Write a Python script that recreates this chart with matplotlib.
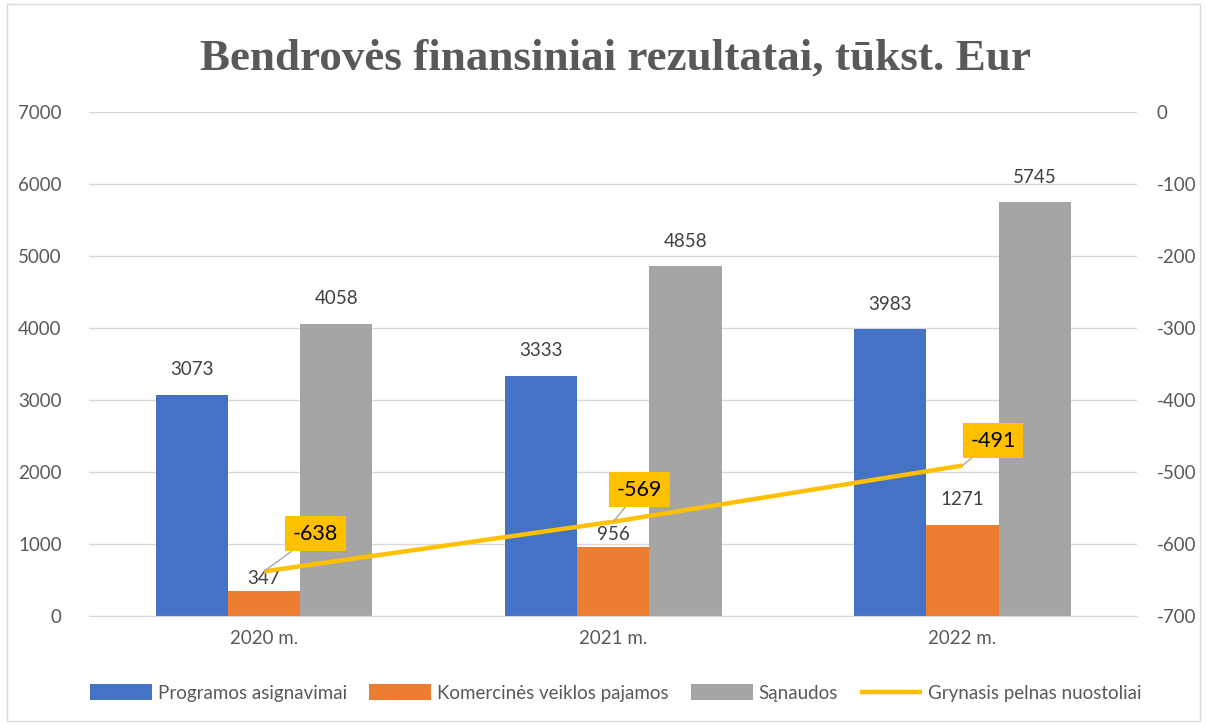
import matplotlib
matplotlib.use("Agg")
import matplotlib.pyplot as plt
import numpy as np
from matplotlib.patches import Rectangle

# chart data
years = ["2020 m.", "2021 m.", "2022 m."]
programos = [3073, 3333, 3983]
komercines = [347, 956, 1271]
sanaudos = [4058, 4858, 5745]
pelnas = [-638, -569, -491]

series_names = ["Programos asignavimai", "Komercinės veiklos pajamos",
                "Sąnaudos", "Grynasis pelnas nuostoliai"]
colors = ["#4472C4", "#ED7D31", "#A5A5A5", "#FFC000"]
text_gray = "#595959"

plt.rcParams["font.family"] = ["Lato", "DejaVu Sans"]
plt.rcParams["axes.unicode_minus"] = False

fig = plt.figure(figsize=(12.07, 7.25), dpi=100)
fig.patches.append(Rectangle((0.006, 0.006), 0.988, 0.988, transform=fig.transFigure,
                             fill=False, edgecolor="#D9D9D9", linewidth=1))

ax = fig.add_axes([0.0741, 0.1503, 0.8679, 0.6952])
x = np.arange(len(years))
w = 0.207
# label gap above each bar (points); the first two orange labels sit lower, as in the source
pads = [[12, 12, 12], [3, 3, 12], [12, 12, 12]]
for i, (vals, name) in enumerate(zip([programos, komercines, sanaudos], series_names[:3])):
    xs = x + (i - 1) * w
    ax.bar(xs, vals, width=w, color=colors[i], label=name, zorder=2)
    for xv, v, p in zip(xs, vals, pads[i]):
        ax.annotate(str(v), (xv, v), xytext=(0, p), textcoords="offset points",
                    ha="center", va="bottom", fontsize=13.5, color="#404040")

ax.set_xlim(-0.5, 2.5)
ax.set_ylim(0, 7000)
ax.set_yticks(range(0, 7001, 1000))
ax.set_xticks(x)
ax.set_xticklabels(years)
ax.grid(axis="y", color="#D9D9D9", linewidth=1, zorder=0)
for s in ["top", "right", "left"]:
    ax.spines[s].set_visible(False)
ax.spines["bottom"].set_color("#D9D9D9")
ax.tick_params(axis="both", length=0, labelsize=13.5, colors=text_gray)
ax.tick_params(axis="x", pad=10)
ax.tick_params(axis="y", pad=20)

ax2 = ax.twinx()
ax2.plot(x, pelnas, color=colors[3], linewidth=3.2, label=series_names[3], solid_capstyle="butt")
ax2.set_ylim(-700, 0)
ax2.set_yticks(range(-700, 1, 100))
for s in ax2.spines.values():
    s.set_visible(False)
ax2.tick_params(axis="y", length=0, labelsize=13.5, colors=text_gray, pad=14)

offsets = [(37, 27), (19, 23), (22, 18)]
for xi, v, off in zip(x, pelnas, offsets):
    ax2.annotate(str(v), (xi, v), xytext=off, textcoords="offset points",
                 ha="center", va="center", fontsize=15.5, color="black",
                 bbox=dict(boxstyle="square,pad=0.35", fc=colors[3], ec="none"),
                 arrowprops=dict(arrowstyle="-", color="#A6A6A6", lw=1,
                                 shrinkA=0, shrinkB=0))

fig.text(0.51, 0.919, "Bendrovės finansiniai rezultatai, tūkst. Eur", ha="center", va="center",
         fontsize=32.5, fontweight="bold", color=text_gray, family="Liberation Serif")

h1, l1 = ax.get_legend_handles_labels()
h2, l2 = ax2.get_legend_handles_labels()
leg = fig.legend(h1 + h2, l1 + l2, loc="center", bbox_to_anchor=(0.51, 0.044), ncol=4,
                 frameon=False, fontsize=13.5, handlelength=3.3, handleheight=0.9,
                 columnspacing=1.2, handletextpad=0.3)
for t in leg.get_texts():
    t.set_color(text_gray)

fig.savefig("out.png", dpi=100)
